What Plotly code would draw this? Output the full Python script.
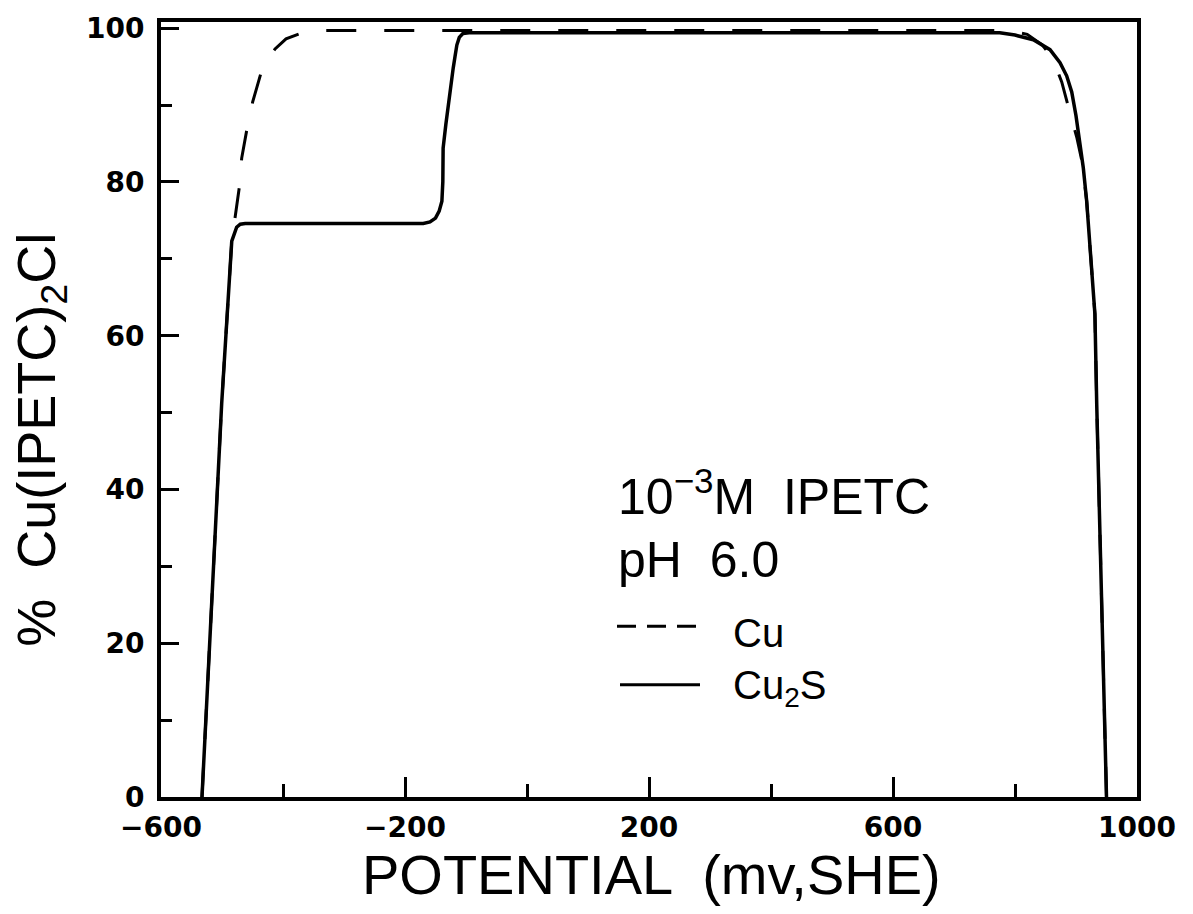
import plotly.graph_objects as go

# Potential (mV vs SHE) and % Cu(IPETC)2Cl formed
cu_potential = [-532.8, -516.4, -500.5, -484, -478.7, -471.6, -467.7, -459.5, -449.7,
                -436, -425, -413, -395, -372, -340, 790, 820, 845, 862, 876.6, 890,
                901.6, 910, 917.5, 923, 931, 934, 939, 944.5, 950]
cu_percent = [0, 25.4, 51.2, 72.3, 75.4, 79.3, 83.1, 86.7, 90.4,
              94.2, 96.0, 97.3, 98.6, 99.3, 99.7, 99.7, 99.2, 97.8, 96.0, 93.0, 89.0,
              85.7, 82.6, 77.5, 71.5, 62.8, 51.0, 34.0, 17.0, 0]

cu2s_potential = [-532.8, -516.4, -500.5, -484, -480, -476, -470, -462, -300, -170,
                  -159, -150, -144, -139.5, -138, -137.5, -133, -127, -121, -118, -115,
                  -111, -105, -95, 775, 800, 830, 857.4, 873.8, 884.7, 893, 900, 906.6,
                  912, 917.5, 923, 931, 934, 939, 944.5, 950]
cu2s_percent = [0, 25.4, 51.2, 72.3, 73.4, 74.1, 74.5, 74.6, 74.6, 74.6,
                74.8, 75.3, 76.2, 77.5, 80.0, 84.4, 87.5, 91.5, 94.8, 96.3, 97.8,
                98.8, 99.3, 99.4, 99.4, 99.1, 98.5, 97.2, 95.5, 93.8, 91.7, 88.6, 85.2,
                81.8, 77.5, 71.5, 62.8, 51.0, 34.0, 17.0, 0]

x_major = [-600, -200, 200, 600, 1000]
x_labels = ["\u2212600", "\u2212200", "200", "600", "1000"]
x_minor = [-400, 0, 400, 800]
y_major = [0, 20, 40, 60, 80, 100]
y_minor = [10, 30, 50, 70, 90]

W, H = 1193, 914
L, R, T, B = 161, 1137, 16, 797


def px(x):
    return (x - L) / (R - L)


def py(y):
    return (B - y) / (B - T)


fig = go.Figure()
fig.add_trace(go.Scatter(x=cu_potential, y=cu_percent, mode="lines",
                         line=dict(color="black", width=3, dash="30px,28px"),
                         showlegend=False, hoverinfo="skip"))
fig.add_trace(go.Scatter(x=cu2s_potential, y=cu2s_percent, mode="lines",
                         line=dict(color="black", width=3.5),
                         showlegend=False, hoverinfo="skip"))

tick_font = dict(family="DejaVu Sans", size=28, color="black", weight="bold")
txt_font = "Liberation Sans"

fig.update_xaxes(range=[-600, 1000], tickmode="array", tickvals=x_major, ticktext=x_labels,
                 ticks="inside", ticklen=20, tickwidth=3, tickcolor="black",
                 minor=dict(tickmode="array", tickvals=x_minor, ticks="inside",
                            ticklen=13, tickwidth=3, tickcolor="black"),
                 showline=True, linewidth=4, linecolor="black", mirror=True,
                 showgrid=False, zeroline=False, tickfont=tick_font, ticklabelstandoff=2)
fig.update_yaxes(range=[0, 100.8], tickmode="array", tickvals=y_major,
                 ticktext=[str(v) for v in y_major],
                 ticks="inside", ticklen=18, tickwidth=3, tickcolor="black",
                 minor=dict(tickmode="array", tickvals=y_minor, ticks="inside",
                            ticklen=11, tickwidth=3, tickcolor="black"),
                 showline=True, linewidth=4, linecolor="black", mirror=True,
                 showgrid=False, zeroline=False, tickfont=tick_font, ticklabelstandoff=7)

annotations = [
    dict(text="POTENTIAL  (mv,SHE)", x=px(651), y=py(875), size=56, ang=0, xa="center"),
    dict(text="%  Cu(IPETC)<sub>2</sub>Cl", x=px(40), y=py(437), size=54, ang=-90, xa="center"),
    dict(text="10<sup>\u22123</sup>M  IPETC", x=px(616), y=py(491), size=50, ang=0, xa="left"),
    dict(text="pH  6.0", x=px(616), y=py(558), size=50, ang=0, xa="left"),
    dict(text="Cu", x=px(731), y=py(632), size=40, ang=0, xa="left"),
    dict(text="Cu<sub>2</sub>S", x=px(731), y=py(687), size=40, ang=0, xa="left"),
]
for a in annotations:
    fig.add_annotation(text=a["text"], x=a["x"], y=a["y"], xref="paper", yref="paper",
                       xanchor=a["xa"], yanchor="middle", textangle=a["ang"],
                       showarrow=False, font=dict(family=txt_font, size=a["size"], color="black"))

# legend samples
fig.add_shape(type="line", xref="paper", yref="paper", x0=px(617), x1=px(700),
              y0=py(625), y1=py(625), line=dict(color="black", width=3, dash="19px,11px"))
fig.add_shape(type="line", xref="paper", yref="paper", x0=px(620), x1=px(700),
              y0=py(684), y1=py(684), line=dict(color="black", width=3))

fig.update_layout(width=W, height=H, margin=dict(l=L, r=W - R, t=T, b=H - B),
                  plot_bgcolor="white", paper_bgcolor="white")

fig.write_html("out.html")
